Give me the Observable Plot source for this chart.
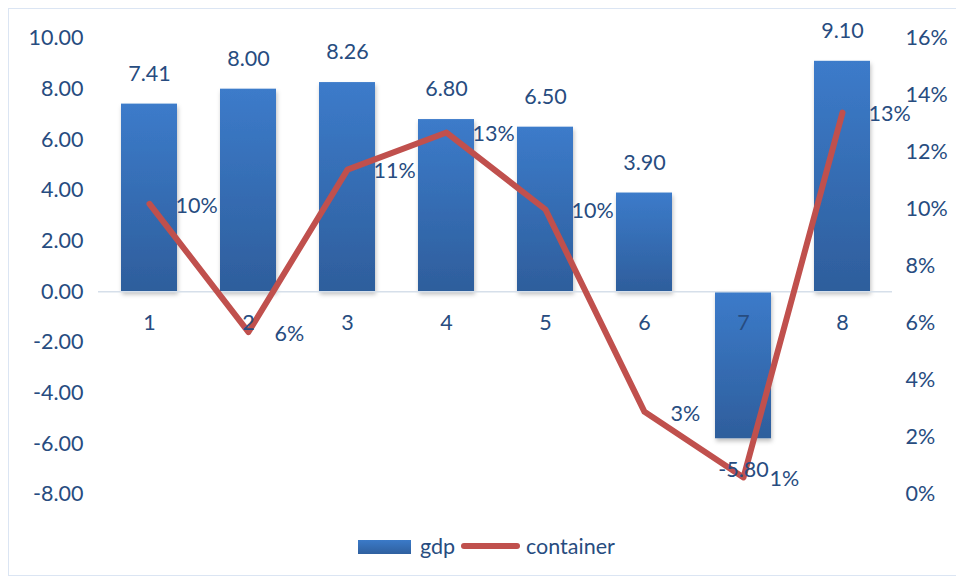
<!DOCTYPE html>
<html>
<head>
<meta charset="utf-8">
<script src="https://cdn.jsdelivr.net/npm/d3@7"></script>
<script src="https://cdn.jsdelivr.net/npm/@observablehq/plot@0.6"></script>
<style>
  html, body { margin: 0; padding: 0; background: #fff; }
  #wrap { position: relative; width: 956px; height: 583px; overflow: hidden; font-family: Lato, "Open Sans", sans-serif; }
  #frame { position: absolute; left: 8px; top: 8px; width: 960px; height: 568px; border: 1.5px solid #dbe5f3; box-sizing: border-box; }
  #chart { position: absolute; left: 0; top: 0; }
  #legend { position: absolute; top: 533px; left: 0; width: 956px; height: 26px; }
  .lg { position: absolute; top: 0; font-size: 21.5px; color: #274c80; line-height: 26px; }
</style>
</head>
<body>
<div id="wrap">
  <div id="frame"></div>
  <div id="chart"></div>
  <div id="legend">
    <div style="position:absolute;left:358px;top:7px;width:53px;height:14px;background:linear-gradient(#3b7ac8,#2f609f);"></div>
    <div class="lg" style="left:420px;">gdp</div>
    <div style="position:absolute;left:461px;top:10px;width:59px;height:6px;border-radius:3px;background:#c0504d;"></div>
    <div class="lg" style="left:526px;">container</div>
  </div>
</div>
<script>
// Data
const categories = ["1", "2", "3", "4", "5", "6", "7", "8"];
const gdp = [7.41, 8.00, 8.26, 6.80, 6.50, 3.90, -5.80, 9.10];
const container = [10.2, 5.7, 11.4, 12.7, 10.0, 2.9, 0.6, 13.4]; // percent
const containerLabels = ["10%", "6%", "11%", "13%", "10%", "3%", "1%", "13%"];
const leftTicks = [-8, -6, -4, -2, 0, 2, 4, 6, 8, 10];
const rightTicks = [0, 2, 4, 6, 8, 10, 12, 14, 16];

// secondary axis mapping: 0% -> -8, 16% -> 10
const pctToY = p => -8 + p * 18 / 16;
const yToPct = y => (y + 8) * 16 / 18;

const rows = categories.map((c, i) => ({cat: c, gdp: gdp[i], pct: container[i], py: pctToY(container[i]), plabel: containerLabels[i]}));

const textColor = "#274c80";
const fs = 21.5;

const defs = () => {
  const d = d3.create("svg:defs");
  const g = d.append("linearGradient").attr("id", "barGrad").attr("x1", 0).attr("y1", 0).attr("x2", 0).attr("y2", 1);
  g.append("stop").attr("offset", "0%").attr("stop-color", "#3c7bca");
  g.append("stop").attr("offset", "100%").attr("stop-color", "#2e5e9c");
  const f = d.append("filter").attr("id", "shadow").attr("x", "-20%").attr("y", "-20%").attr("width", "140%").attr("height", "140%");
  f.append("feDropShadow").attr("dx", 1).attr("dy", 3).attr("stdDeviation", 2).attr("flood-color", "#000").attr("flood-opacity", 0.25);
  return d.node();
};

const chart = Plot.plot({
  width: 956,
  height: 525,
  marginLeft: 98,
  marginRight: 64,
  marginTop: 38,
  marginBottom: 31,
  style: {fontFamily: "Lato, 'Open Sans', sans-serif", fontSize: fs + "px", color: textColor, background: "transparent", overflow: "visible"},
  x: {domain: categories, paddingInner: 0.435, paddingOuter: 0.2175, axis: null},
  y: {domain: [-8, 10], axis: null},
  marks: [
    defs,
    Plot.barY(rows, {x: "cat", y: "gdp", fill: "url(#barGrad)"}),
    Plot.ruleY([0], {stroke: "#d6dfea", strokeWidth: 1.5}),
    Plot.axisY({ticks: leftTicks, tickFormat: d => d.toFixed(2), tickSize: 0, tickPadding: 15, fontSize: fs, fill: textColor}),
    Plot.axisY({anchor: "right", ticks: rightTicks.map(pctToY), tickFormat: d => Math.round(yToPct(d)) + "%", tickSize: 0, tickPadding: 13, fontSize: fs, fill: textColor}),
    Plot.line(rows, {x: "cat", y: "py", stroke: "#c0504d", strokeWidth: 6, strokeLinejoin: "round", strokeLinecap: "round"}),
    Plot.text(rows, {x: "cat", y: 0, text: "cat", dy: 31, fontSize: fs, fill: textColor}),
    Plot.text(rows, {x: "cat", y: "gdp", text: d => d.gdp.toFixed(2), fontSize: fs, fill: textColor, filter: d => d.gdp >= 0, dy: -30}),
    Plot.text(rows, {x: "cat", y: "gdp", text: d => d.gdp.toFixed(2), fontSize: fs, fill: textColor, filter: d => d.gdp < 0, dy: 31}),
    Plot.text(rows, {x: "cat", y: "py", text: "plabel", dx: 26, dy: 2, textAnchor: "start", fontSize: fs, fill: textColor})
  ]
});
// apply shadow to bars
d3.select(chart).selectAll("rect").attr("filter", "url(#shadow)");
document.getElementById("chart").appendChild(chart);
</script>
</body>
</html>
